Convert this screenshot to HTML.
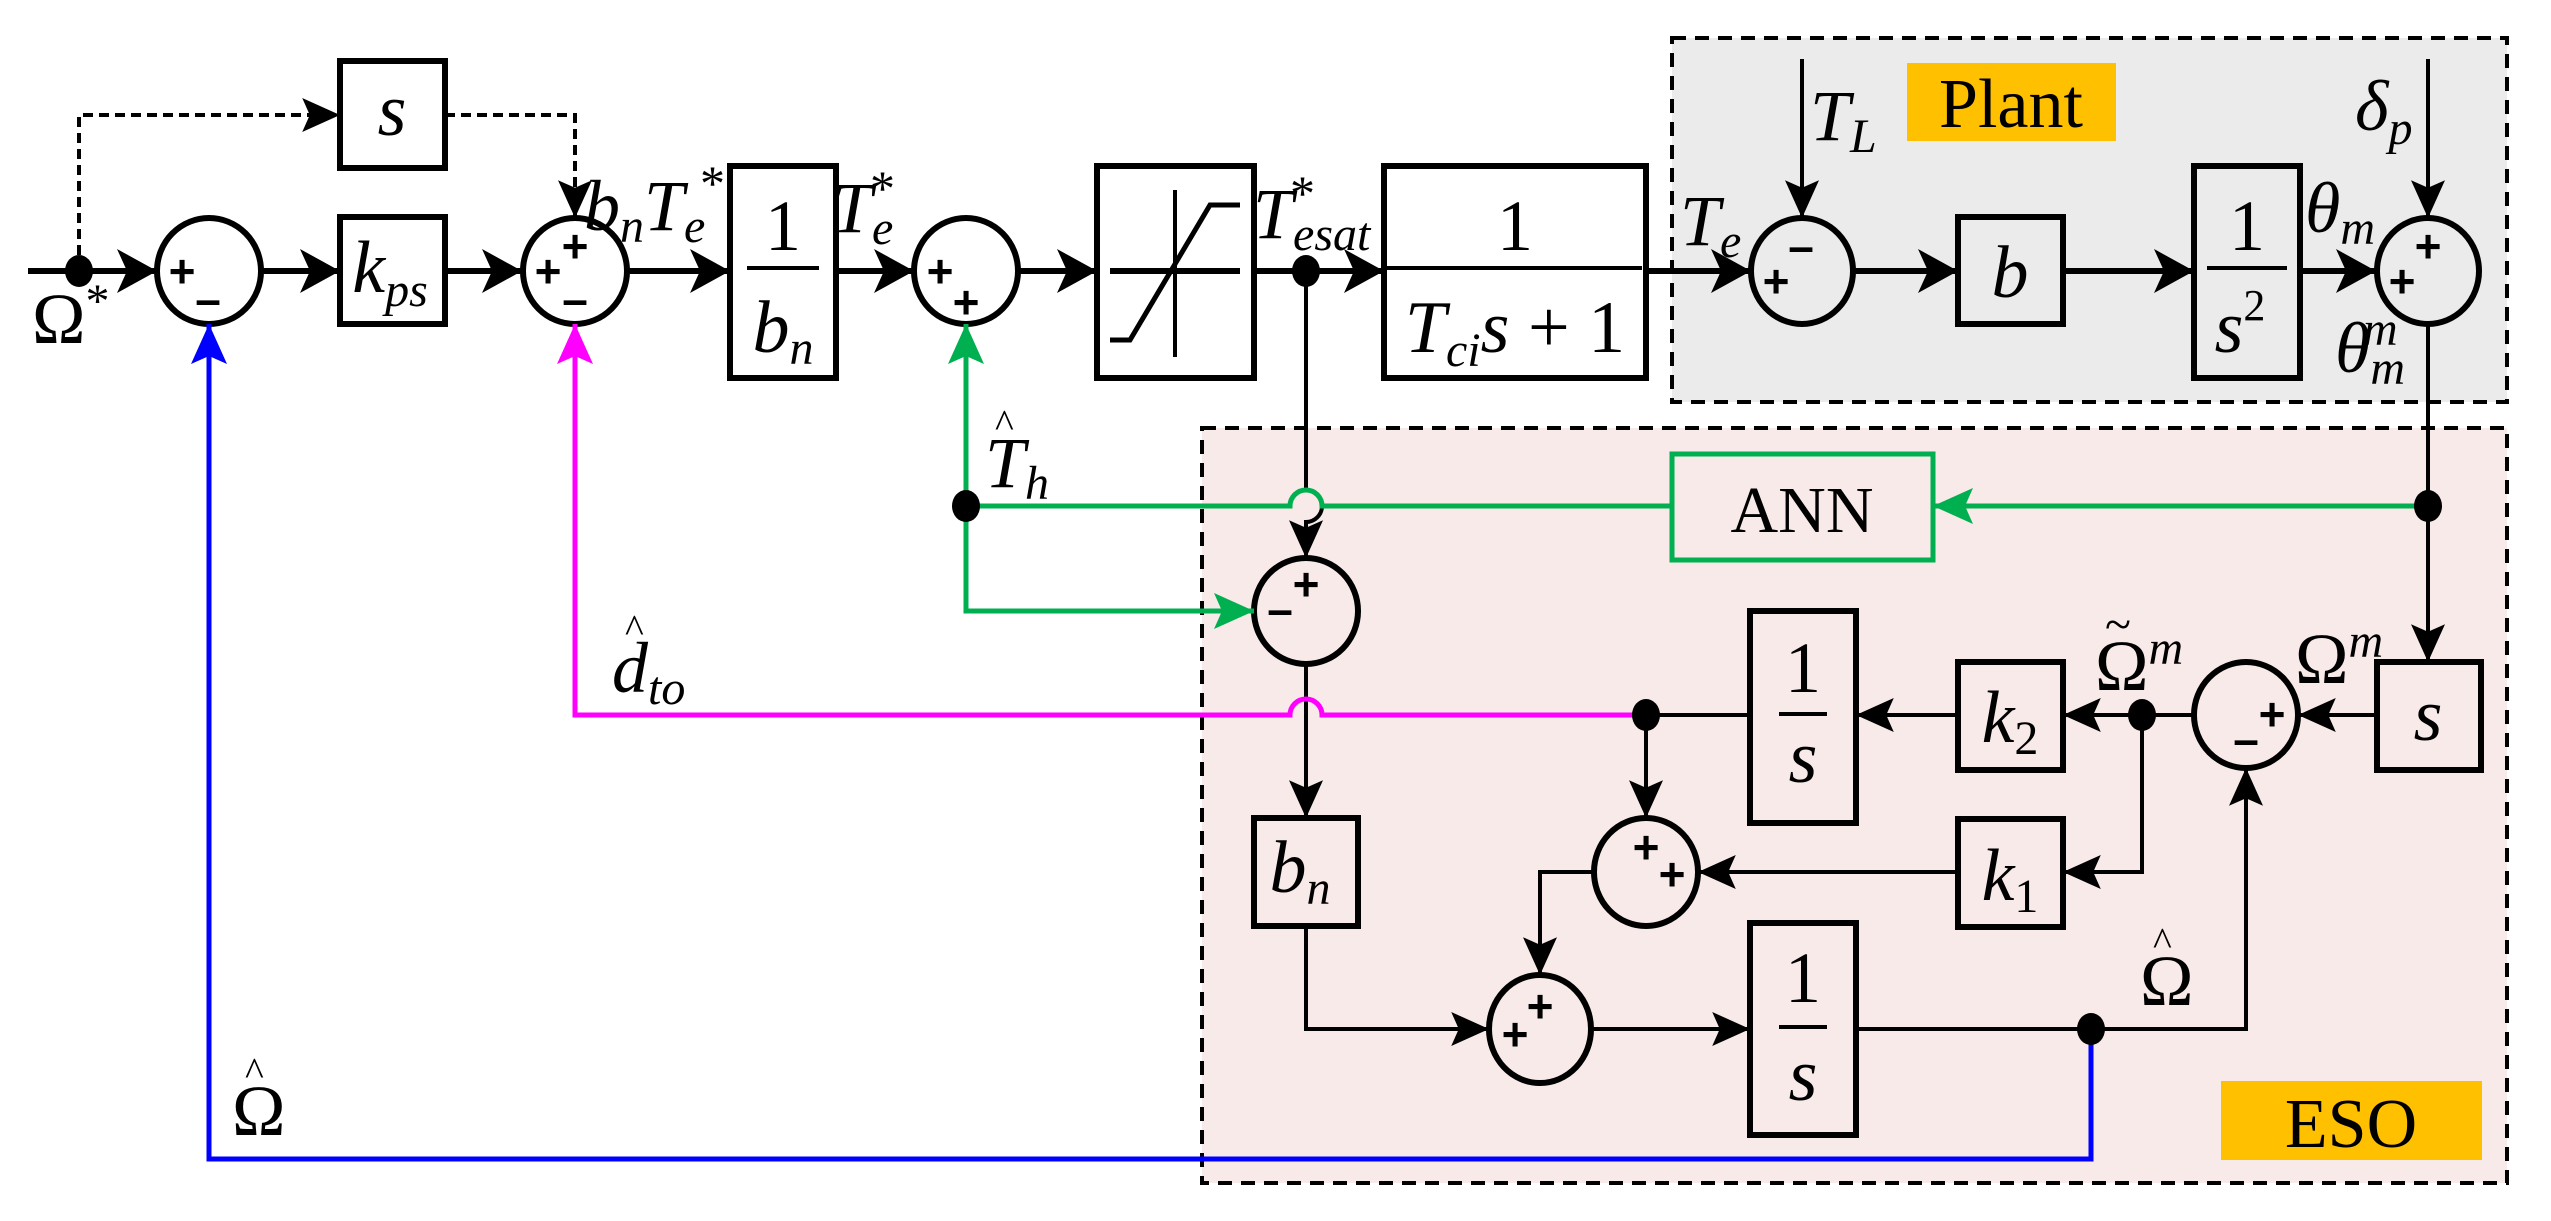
<!DOCTYPE html>
<html><head><meta charset="utf-8"><style>html,body{margin:0;padding:0;background:#fff}svg{display:block}
</style></head><body>
<svg width="2551" height="1221" viewBox="0 0 2551 1221" xmlns="http://www.w3.org/2000/svg">
<defs>
<marker id="a" viewBox="0 0 40 44" refX="40" refY="22" markerWidth="40" markerHeight="44" markerUnits="userSpaceOnUse" orient="auto"><path d="M0,0 L40,22 L0,44 L10,22 z" fill="#000"/></marker>
<marker id="at" viewBox="0 0 40 36" refX="40" refY="18" markerWidth="40" markerHeight="34" markerUnits="userSpaceOnUse" orient="auto"><path d="M0,0 L40,18 L0,36 L8,18 z" fill="#000"/></marker>
<marker id="ab" viewBox="0 0 40 36" refX="40" refY="18" markerWidth="40" markerHeight="36" markerUnits="userSpaceOnUse" orient="auto"><path d="M0,0 L40,18 L0,36 L8,18 z" fill="#0000ff"/></marker>
<marker id="am" viewBox="0 0 40 36" refX="40" refY="18" markerWidth="40" markerHeight="36" markerUnits="userSpaceOnUse" orient="auto"><path d="M0,0 L40,18 L0,36 L8,18 z" fill="#ff00ff"/></marker>
<marker id="ag" viewBox="0 0 40 36" refX="40" refY="18" markerWidth="40" markerHeight="36" markerUnits="userSpaceOnUse" orient="auto"><path d="M0,0 L40,18 L0,36 L8,18 z" fill="#00b050"/></marker>
</defs>
<rect x="1672" y="38" width="835" height="364" fill="#ebebeb" stroke="#000" stroke-width="4" stroke-dasharray="14,9"/>
<rect x="1202" y="428" width="1305" height="755" fill="#f7eae9" stroke="#000" stroke-width="4" stroke-dasharray="14,9"/>
<rect x="1907" y="63" width="209" height="78" fill="#ffc000"/>
<text x="2011" y="127" font-family="Liberation Serif, serif" font-size="70" text-anchor="middle">Plant</text>
<rect x="2221" y="1081" width="261" height="79" fill="#ffc000"/>
<text x="2351" y="1147" font-family="Liberation Serif, serif" font-size="70" text-anchor="middle">ESO</text>

<g fill="none" stroke="#000" stroke-width="6">
<line x1="28" y1="271" x2="157" y2="271" marker-end="url(#a)"/>
<line x1="261" y1="271" x2="340" y2="271" marker-end="url(#a)"/>
<line x1="445" y1="271" x2="522" y2="271" marker-end="url(#a)"/>
<line x1="627" y1="271" x2="730" y2="271" marker-end="url(#a)"/>
<line x1="836" y1="271" x2="914" y2="271" marker-end="url(#a)"/>
<line x1="1018" y1="271" x2="1097" y2="271" marker-end="url(#a)"/>
<line x1="1254" y1="271" x2="1384" y2="271" marker-end="url(#a)"/>
<line x1="1646" y1="271" x2="1751" y2="271" marker-end="url(#a)"/>
<line x1="1853" y1="271" x2="1958" y2="271" marker-end="url(#a)"/>
<line x1="2063" y1="271" x2="2194" y2="271" marker-end="url(#a)"/>
<line x1="2300" y1="271" x2="2376" y2="271" marker-end="url(#a)"/>
<rect x="340" y="61" width="105" height="107"/>
<rect x="340" y="217" width="105" height="107"/>
<rect x="730" y="166" width="106" height="212"/>
<rect x="1097" y="166" width="157" height="212"/>
<rect x="1384" y="166" width="262" height="212"/>
<rect x="1958" y="217" width="105" height="107"/>
<rect x="2194" y="166" width="106" height="212"/>
<rect x="1750" y="611" width="106" height="212"/>
<rect x="1958" y="662" width="105" height="108"/>
<rect x="2377" y="662" width="104" height="108"/>
<rect x="1254" y="818" width="104" height="108"/>
<rect x="1958" y="819" width="105" height="108"/>
<rect x="1750" y="923" width="106" height="212"/>
<ellipse cx="209" cy="271" rx="52" ry="53"/>
<ellipse cx="575" cy="271" rx="52" ry="53"/>
<ellipse cx="966" cy="271" rx="52" ry="53"/>
<ellipse cx="1802" cy="271" rx="51" ry="53"/>
<ellipse cx="2428" cy="271" rx="51" ry="53"/>
<ellipse cx="1306" cy="611" rx="52" ry="53"/>
<ellipse cx="2246" cy="715" rx="52" ry="53"/>
<ellipse cx="1646" cy="872" rx="52" ry="54"/>
<ellipse cx="1540" cy="1029" rx="51" ry="54"/>
</g>
<g stroke="#000" stroke-width="4">
<line x1="747" y1="268" x2="819" y2="268"/>
<line x1="1387" y1="268" x2="1642" y2="268"/>
<line x1="2207" y1="268" x2="2287" y2="268"/>
<line x1="1779" y1="714" x2="1827" y2="714"/>
<line x1="1779" y1="1027" x2="1827" y2="1027"/>
<line x1="1110" y1="271" x2="1240" y2="271" stroke-width="6"/>
<line x1="1175" y1="190" x2="1175" y2="357"/>
<polyline points="1110,340 1130,340 1210,205 1240,205" fill="none" stroke-width="5"/>
</g>
<g fill="none" stroke="#000" stroke-width="4" stroke-dasharray="10,6">
<polyline points="79,271 79,115 340,115" marker-end="url(#at)"/>
<polyline points="445,115 575,115 575,218" marker-end="url(#at)"/>
</g>
<g fill="none" stroke="#000" stroke-width="4">
<line x1="1802" y1="59" x2="1802" y2="218" marker-end="url(#at)"/>
<line x1="2428" y1="59" x2="2428" y2="218" marker-end="url(#at)"/>
<polyline points="2428,324 2428,662" marker-end="url(#at)"/>
<path d="M1306,271 L1306,490 A16,16 0 0 1 1306,522 L1306,558" marker-end="url(#at)"/>
<polyline points="1306,664 1306,818" marker-end="url(#at)"/>
<polyline points="1306,926 1306,1029 1489,1029" marker-end="url(#at)"/>
<line x1="1591" y1="1029" x2="1750" y2="1029" marker-end="url(#at)"/>
<polyline points="1856,1029 2246,1029 2246,768" marker-end="url(#at)"/>
<line x1="2377" y1="715" x2="2298" y2="715" marker-end="url(#at)"/>
<line x1="2194" y1="715" x2="2063" y2="715" marker-end="url(#at)"/>
<line x1="1958" y1="715" x2="1856" y2="715" marker-end="url(#at)"/>
<line x1="1750" y1="715" x2="1646" y2="715"/>
<polyline points="1646,715 1646,818" marker-end="url(#at)"/>
<polyline points="2142,715 2142,872 2063,872" marker-end="url(#at)"/>
<line x1="1958" y1="872" x2="1698" y2="872" marker-end="url(#at)"/>
<polyline points="1594,872 1540,872 1540,975" marker-end="url(#at)"/>
</g>
<polyline points="2091,1029 2091,1159 209,1159 209,324" fill="none" stroke="#0000ff" stroke-width="5" marker-end="url(#ab)"/>
<path d="M1646,715 L1322,715 A16,16 0 0 0 1290,715 L575,715 L575,324" fill="none" stroke="#ff00ff" stroke-width="5" marker-end="url(#am)"/>
<path d="M2428,506 L1933,506" fill="none" stroke="#00b050" stroke-width="5" marker-end="url(#ag)"/>
<path d="M1672,506 L1322,506 A16,16 0 0 0 1290,506 L966,506 L966,324" fill="none" stroke="#00b050" stroke-width="5" marker-end="url(#ag)"/>
<polyline points="966,506 966,611 1254,611" fill="none" stroke="#00b050" stroke-width="5" marker-end="url(#ag)"/>
<rect x="1672" y="454" width="261" height="106" fill="none" stroke="#00b050" stroke-width="5"/>
<text x="1802" y="532" font-family="Liberation Serif, serif" font-size="66" text-anchor="middle">ANN</text>
<g fill="#000">
<ellipse cx="79" cy="271" rx="14" ry="16"/>
<ellipse cx="1306" cy="271" rx="14" ry="16"/>
<ellipse cx="966" cy="506" rx="14" ry="16"/>
<ellipse cx="2428" cy="506" rx="14" ry="16"/>
<ellipse cx="1646" cy="715" rx="14" ry="16"/>
<ellipse cx="2142" cy="715" rx="14" ry="16"/>
<ellipse cx="2091" cy="1029" rx="14" ry="16"/>
</g>
<g font-family="Liberation Sans, sans-serif" font-weight="bold" font-size="46" text-anchor="middle">
<text x="182" y="287">+</text><text x="208" y="315">–</text>
<text x="548" y="287">+</text><text x="575" y="262">+</text><text x="575" y="315">–</text>
<text x="940" y="287">+</text><text x="966" y="318">+</text>
<text x="1776" y="297">+</text><text x="1801" y="262">–</text>
<text x="2402" y="297">+</text><text x="2428" y="262">+</text>
<text x="1280" y="625">–</text><text x="1306" y="600">+</text>
<text x="2272" y="730">+</text><text x="2246" y="755">–</text>
<text x="1646" y="863">+</text><text x="1672" y="890">+</text>
<text x="1515" y="1050">+</text><text x="1540" y="1022">+</text>
</g>
<g font-family="Liberation Serif, serif" font-style="italic" text-anchor="middle">
<text x="392" y="135" font-size="74">s</text>
<text x="390" y="292" font-size="74">k<tspan font-size="48" dy="14">ps</tspan></text>
<text x="783" y="250" font-size="72" font-style="normal">1</text>
<text x="783" y="352" font-size="74">b<tspan font-size="48" dy="12">n</tspan></text>
<text x="1515" y="250" font-size="72" font-style="normal">1</text>
<text x="1515" y="352" font-size="74">T<tspan font-size="48" dy="14">ci</tspan><tspan dy="-14">s</tspan><tspan font-style="normal"> + 1</tspan></text>
<text x="2010" y="297" font-size="74">b</text>
<text x="2247" y="250" font-size="72" font-style="normal">1</text>
<text x="2240" y="352" font-size="74">s<tspan font-size="44" dy="-32" font-style="normal">2</tspan></text>
<text x="1803" y="692" font-size="72" font-style="normal">1</text>
<text x="1803" y="782" font-size="74">s</text>
<text x="2010" y="742" font-size="74">k<tspan font-size="48" dy="12" font-style="normal">2</tspan></text>
<text x="2428" y="740" font-size="74">s</text>
<text x="1300" y="892" font-size="74">b<tspan font-size="48" dy="12">n</tspan></text>
<text x="2010" y="900" font-size="74">k<tspan font-size="48" dy="12" font-style="normal">1</tspan></text>
<text x="1803" y="1002" font-size="72" font-style="normal">1</text>
<text x="1803" y="1100" font-size="74">s</text>
</g>
<g font-family="Liberation Serif, serif" font-style="italic" font-size="72">
<text x="32" y="343" font-style="normal">Ω<tspan font-size="48" dy="-26">*</tspan></text>
<text x="584" y="230">b<tspan font-size="48" dy="12">n</tspan><tspan dy="-12">T</tspan><tspan font-size="48" dy="12">e</tspan></text>
<text x="700" y="200" font-size="50" font-style="normal">*</text>
<text x="832" y="232">T<tspan font-size="48" dy="12">e</tspan></text>
<text x="870" y="205" font-size="50" font-style="normal">*</text>
<text x="1253" y="238">T<tspan font-size="48" dy="12">esat</tspan></text>
<text x="1290" y="210" font-size="50" font-style="normal">*</text>
<text x="1680" y="245">T<tspan font-size="48" dy="12">e</tspan></text>
<text x="1810" y="140">T<tspan font-size="48" dy="12">L</tspan></text>
<text x="2355" y="130">δ<tspan font-size="48" dy="14">p</tspan></text>
<text x="2305" y="232">θ<tspan font-size="48" dy="12">m</tspan></text>
<text x="2335" y="372">θ<tspan font-size="48" dy="12">m</tspan></text>
<text x="2363" y="345" font-size="48">m</text>
<text x="985" y="487">T<tspan font-size="48" dy="12">h</tspan></text>
<text x="995" y="437" font-size="40" font-style="normal">^</text>
<text x="612" y="692">d<tspan font-size="48" dy="12">to</tspan></text>
<text x="625" y="642" font-size="40" font-style="normal">^</text>
<text x="232" y="1135" font-style="normal">Ω</text>
<text x="245" y="1085" font-size="40" font-style="normal">^</text>
<text x="2095" y="690" font-style="normal">Ω<tspan font-size="48" dy="-26" font-style="italic">m</tspan></text>
<text x="2105" y="640" font-size="48" font-style="normal">~</text>
<text x="2295" y="683" font-style="normal">Ω<tspan font-size="48" dy="-26" font-style="italic">m</tspan></text>
<text x="2140" y="1005" font-style="normal">Ω</text>
<text x="2153" y="955" font-size="40" font-style="normal">^</text>
</g>
</svg>
</body></html>
